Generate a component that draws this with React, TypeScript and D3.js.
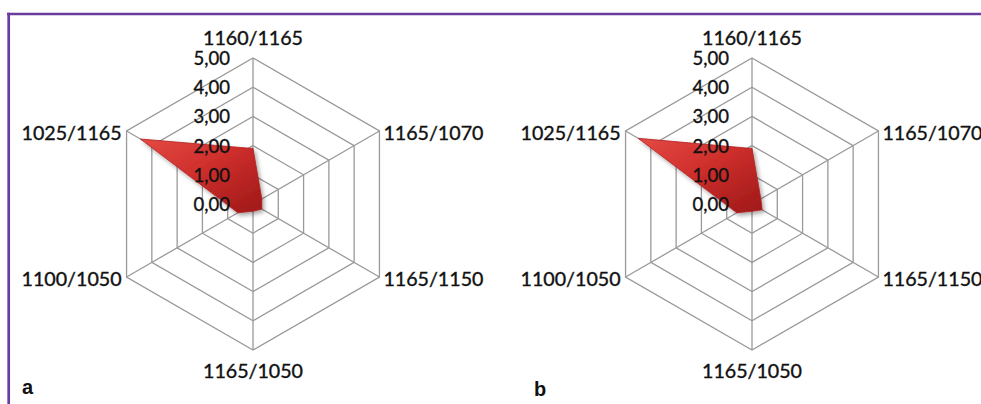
import * as d3 from "d3"
import { useEffect } from "react"

/* ----------------------- data ------------------------- */

const categories = ["1160/1165", "1165/1070", "1165/1150", "1165/1050", "1100/1050", "1025/1165"]
const seriesA = [1.9, 0.35, 0.35, 0.25, 0.6, 4.45]
const seriesB = [1.9, 0.35, 0.4, 0.25, 0.6, 4.5]
const ticks = [0, 1, 2, 3, 4, 5]
const panels = [
  { id: "a", values: seriesA },
  { id: "b", values: seriesB },
]

/* ----------------------- chart ------------------------- */

const width = 981
const height = 404
const radius = 146
const centersX = [253, 752]
const centerY = 204
const font = "Lato, 'Noto Sans', sans-serif"

const r = d3.scaleLinear().domain([0, 5]).range([0, radius])
const angle = d3.scaleLinear().domain([0, categories.length]).range([0, 2 * Math.PI])

const pt = (i: number, v: number): [number, number] => {
  const a = angle(i)
  return [Math.sin(a) * r(v), -Math.cos(a) * r(v)]
}

const radar = d3.line<number>()
  .x((v, i) => pt(i, v)[0])
  .y((v, i) => pt(i, v)[1])
  .curve(d3.curveLinearClosed)

function Radar({ values, cx }: { values: number[]; cx: number }) {
  return (
    <g transform={`translate(${cx}, ${centerY})`}>
      <g className="grid" fill="none" stroke="#9a9a9a" strokeWidth={1.3}>
        {ticks.slice(1).map(t => (
          <path key={t} d={radar(categories.map(() => t)) ?? ""} />
        ))}
        {categories.map((c, i) => {
          const [x, y] = pt(i, 5)
          return <line key={c} x1={0} y1={0} x2={x} y2={y} />
        })}
      </g>
      <path
        d={radar(values) ?? ""}
        fill="url(#redFill)"
        stroke="#b3201f"
        strokeWidth={0.8}
        filter="url(#shade)"
      />
      <g fontFamily={font} fontSize={18.5} fill="#111" stroke="#111" strokeWidth={0.35}>
        {ticks.map(t => (
          <text key={t} x={-23} y={-r(t)} textAnchor="end" dy="0.38em">
            {d3.format(".2f")(t).replace(".", ",")}
          </text>
        ))}
        {categories.map((c, i) => {
          const [x, y] = pt(i, 5)
          let anchor = "middle"
          let dx = 0
          let dy = 0
          if (i === 0) dy = -20
          else if (i === 3) dy = 21
          else if (i < 3) { anchor = "start"; dx = 4; dy = 2 }
          else { anchor = "end"; dx = -5; dy = 2 }
          return (
            <text key={c} x={x + dx} y={y + dy} textAnchor={anchor} dy="0.36em"
              textLength={100} lengthAdjust="spacingAndGlyphs">
              {c}
            </text>
          )
        })}
      </g>
    </g>
  )
}

export default function App() {
  useEffect(() => {
    document.body.style.margin = "0"
  }, [])

  return (
    <svg width={width} height={height} style={{ display: "block", background: "#fff" }}>
      <defs>
        <linearGradient id="redFill" x1="0" y1="0" x2="1" y2="1">
          <stop offset="0%" stopColor="#e44a44" />
          <stop offset="45%" stopColor="#cf2f2c" />
          <stop offset="100%" stopColor="#9e1818" />
        </linearGradient>
        <filter id="shade" x="-20%" y="-20%" width="140%" height="140%">
          <feDropShadow dx={2} dy={2.5} stdDeviation={2} floodColor="#000" floodOpacity={0.35} />
        </filter>
      </defs>
      <g stroke="#6a3c9e" strokeWidth={2.7}>
        <line x1={7} y1={14} x2={width} y2={14} />
        <line x1={8.7} y1={12.7} x2={8.7} y2={height} />
      </g>
      {panels.map((p, k) => (
        <Radar key={p.id} values={p.values} cx={centersX[k]} />
      ))}
      <g fontFamily="'Liberation Sans', Arial, sans-serif" fontWeight="bold" fontSize={20} fill="#111">
        <text x={22} y={394}>a</text>
        <text x={534} y={396}>b</text>
      </g>
    </svg>
  )
}
